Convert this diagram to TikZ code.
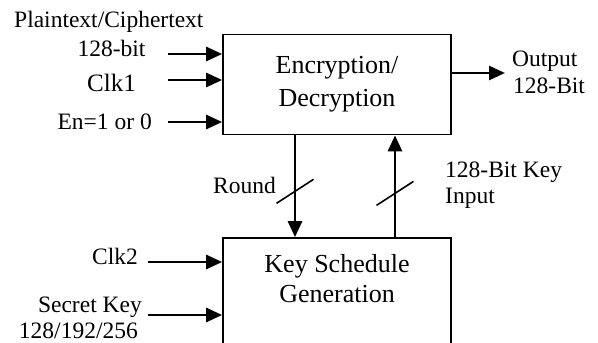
\documentclass[tikz,border=0pt]{standalone}
\usepackage{fontspec}
\setmainfont{Liberation Serif}
\usetikzlibrary{arrows.meta,positioning,calc}

\tikzset{
  block/.style={draw=black,line width=1.7pt,minimum width=228pt,inner sep=0pt},
  sig/.style={line width=2.8pt,-{Triangle[length=16pt,width=14pt]}},
  busmark/.style={line width=1.6pt},
  lbl/.style={inner sep=0pt,font=\fontsize{23.5}{26}\selectfont},
  boxtext/.style={inner sep=0pt,align=center,font=\fontsize{26}{33}\selectfont},
}

\begin{document}
\begin{tikzpicture}[x=1pt,y=-1pt]

  \useasboundingbox (0,0) rectangle (598,343);
  \clip (0,0) rectangle (598,343);

  % the two blocks
  \node[block,minimum height=100pt,boxtext] (enc) at (337,84.5) {Encryption/\\Decryption};
  \node[block,minimum height=150pt] (ksg) at (337,313) {};
  \node[boxtext,font=\fontsize{26}{30}\selectfont,below=17pt of ksg.north] (ksgtext) {Key Schedule\\Generation};

  % inputs of the encryption block
  \foreach [count=\n] \y in {54,80,122} {
    \coordinate (in\n) at (168,\y);
  };
  \foreach \n in {1,2,3} {
    \draw[sig] (in\n) -- (in\n -| enc.west);
  };
  \node[lbl,anchor=base west] (ptext) at (14,27.7) {Plaintext/Ciphertext};
  \node[lbl,anchor=base] (pbits) at (111.5,56) {128-bit};
  \node[lbl,anchor=base,font=\fontsize{25}{26}\selectfont] (clka) at (111.5,91) {Clk1};
  \node[lbl,anchor=base east] (enable) at (152,129) {En=1 or 0};

  % inputs of the key schedule block
  \foreach [count=\n] \y in {262,315} {
    \coordinate (kin\n) at (148,\y);
  };
  \foreach \n in {1,2} {
    \draw[sig] (kin\n) -- (kin\n -| ksg.west);
  };
  \node[lbl,anchor=base east] (clkb) at (138,264) {Clk2};
  \node[lbl,anchor=base east] (skey) at (142,312) {Secret Key};
  \node[lbl,anchor=base east] (slen) at (138,338) {128/192/256};

  % output
  \coordinate (out) at (505,73);
  \draw[sig] (out -| enc.east) -- (out);
  \node[lbl,anchor=base west] (outa) at (512,66) {Output};
  \node[lbl,anchor=base west] (outb) at (513,93) {128-Bit};

  % buses between the blocks
  \coordinate (rx) at (295,0);
  \coordinate (kx) at (395,0);
  \draw[sig] (enc.south -| rx) -- (ksg.north -| rx) coordinate[pos=0.55] (rslash);
  \draw[sig] (ksg.north -| kx) -- (enc.south -| kx) coordinate[pos=0.43] (kslash);
  \draw[busmark] ($(rslash)+(-18.5,12)$) -- ($(rslash)+(18.5,-12)$);
  \draw[busmark] ($(kslash)+(-18.5,12)$) -- ($(kslash)+(18.5,-12)$);
  \node[lbl,anchor=base east] (round) at (276,193) {Round};
  \node[lbl,anchor=base west] (kina) at (445,177) {128-Bit Key};
  \node[lbl,anchor=base west] (kinb) at (445,203) {Input};

\end{tikzpicture}
\end{document}
